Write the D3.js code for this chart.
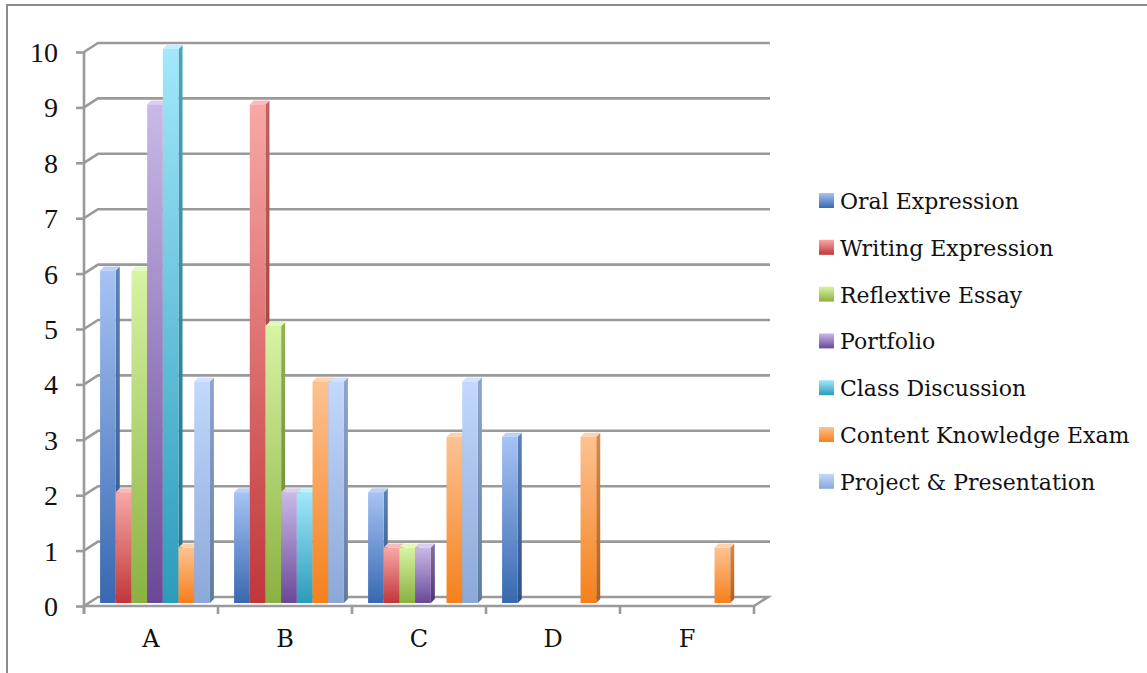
<!DOCTYPE html>
<html>
<head>
<meta charset="utf-8">
<script src="https://cdn.jsdelivr.net/npm/d3@7"></script>
<style>
  html, body { margin: 0; padding: 0; background: #fff; }
  svg { display: block; }
  text { font-family: "DejaVu Serif", serif; fill: #111; }
</style>
</head>
<body>
<svg id="chart" width="1147" height="673"></svg>
<script>
// ---- data ----
const categories = ["A", "B", "C", "D", "F"];
const seriesNames = ["Oral Expression", "Writing Expression", "Reflextive Essay", "Portfolio",
                     "Class Discussion", "Content Knowledge Exam", "Project & Presentation"];
const oralExpression      = [6, 2, 2, 3, 0];
const writingExpression   = [2, 9, 1, 0, 0];
const reflexiveEssay      = [6, 5, 1, 0, 0];
const portfolio           = [9, 2, 1, 0, 0];
const classDiscussion     = [10, 2, 0, 0, 0];
const contentKnowledge    = [1, 4, 3, 3, 1];
const projectPresentation = [4, 4, 4, 0, 0];
const yTicks = [0, 1, 2, 3, 4, 5, 6, 7, 8, 9, 10];

const seriesValues = [oralExpression, writingExpression, reflexiveEssay, portfolio,
                      classDiscussion, contentKnowledge, projectPresentation];

// colours: [light top, dark bottom, side top, side bottom, top face]
const palette = [
  ["#a6c3f4", "#3868b0", "#5d82b8", "#2c5288", "#bcd1f6"],
  ["#f8a8a6", "#c0373a", "#c06361", "#8e2a2a", "#fabcba"],
  ["#d8f3a4", "#8ab141", "#93b35a", "#62802c", "#e4f7bf"],
  ["#cab9e8", "#6a4898", "#8470a4", "#4d3572", "#dacdf0"],
  ["#a2e8fa", "#2a9cba", "#4aa5bd", "#1e7088", "#bff0fc"],
  ["#fdc292", "#f5801b", "#d88a48", "#b55d14", "#fed2ad"],
  ["#c3d8fc", "#8ba8d8", "#8fa7cf", "#62799f", "#d3e3fd"]
];

const svg = d3.select("#chart");
const defs = svg.append("defs");
palette.forEach((c, i) => {
  const g = defs.append("linearGradient").attr("id", "front" + i)
    .attr("x1", 0).attr("y1", 0).attr("x2", 0).attr("y2", 1);
  g.append("stop").attr("offset", "0%").attr("stop-color", c[0]);
  g.append("stop").attr("offset", "100%").attr("stop-color", c[1]);
  const s = defs.append("linearGradient").attr("id", "side" + i)
    .attr("x1", 0).attr("y1", 0).attr("x2", 0).attr("y2", 1);
  s.append("stop").attr("offset", "0%").attr("stop-color", c[2]);
  s.append("stop").attr("offset", "100%").attr("stop-color", c[3]);
});

// outer frame
svg.append("path").attr("d", "M7,673 L7,5 L1147,5")
  .attr("fill", "none").attr("stroke", "#8c8c8c").attr("stroke-width", 2);

// geometry
const x0 = 84, x1 = 754, yBase = 606, yTop = 52;
const depthX = 14, depthY = 9;
const x = d3.scaleBand().domain(categories).range([x0, x1]).paddingInner(0).paddingOuter(0);
const y = d3.scaleLinear().domain([0, 10]).range([yBase, yTop]);
const inner = d3.scaleBand().domain(d3.range(seriesNames.length))
  .range([0, x.bandwidth()]).paddingOuter(0.77).paddingInner(0);

const gridColor = "#9a9a9a";
const grid = svg.append("g");
// back wall gridlines with diagonal from front axis
yTicks.forEach(t => {
  const yy = y(t);
  if (t === 0) return;
  grid.append("path")
    .attr("d", `M${x0},${yy} L${x0 + depthX},${yy - depthY} L${x1 + depthX + 2},${yy - depthY}`)
    .attr("fill", "none").attr("stroke", gridColor).attr("stroke-width", 2.6);
});
// floor
grid.append("path")
  .attr("d", `M${x0},${yBase} L${x0 + depthX},${yBase - depthY} L${x1 + depthX},${yBase - depthY} L${x1},${yBase} Z`)
  .attr("fill", "none").attr("stroke", gridColor).attr("stroke-width", 2.6);

// y axis via d3
const yAxis = d3.axisLeft(y).tickValues(yTicks).tickSize(8).tickPadding(18).tickFormat(d3.format("d"));
const ya = svg.append("g").attr("transform", `translate(${x0},0)`).call(yAxis);
ya.select(".domain").attr("d", `M0,${yTop}V${yBase + 8}`).attr("stroke", gridColor).attr("stroke-width", 2.6);
ya.selectAll(".tick line").attr("stroke", gridColor).attr("stroke-width", 2.6);
ya.selectAll(".tick text").style("font-family", "Liberation Serif").style("font-size", "28px")
  .attr("fill", "#111").attr("dy", "0.34em");

// x axis via d3
const xAxis = d3.axisBottom(x).tickSize(0).tickPadding(24);
const xa = svg.append("g").attr("transform", `translate(0,${yBase})`).call(xAxis);
xa.select(".domain").remove();
xa.selectAll(".tick text").style("font-family", "DejaVu Serif").style("font-size", "24px").attr("fill", "#111");
// category boundary ticks
const bounds = categories.map(c => x(c)).concat([x1]);
xa.selectAll(".bound").data(bounds).enter().append("line")
  .attr("x1", d => d).attr("x2", d => d).attr("y1", 0).attr("y2", 8)
  .attr("stroke", gridColor).attr("stroke-width", 2.6);

// bars
const bdx = 4, bdy = 4, barShiftX = 4, barShiftY = -3;
const bars = svg.append("g");
categories.forEach((cat, ci) => {
  seriesValues.forEach((vals, si) => {
    const v = vals[ci];
    if (!v) return;
    const bx = x(cat) + inner(si) + barShiftX;
    const bw = inner.bandwidth();
    const top = y(v) + barShiftY;
    const bot = y(0) + barShiftY;
    const g = bars.append("g");
    // side face
    g.append("path")
      .attr("d", `M${bx + bw},${top} L${bx + bw + bdx},${top - bdy} L${bx + bw + bdx},${bot - bdy} L${bx + bw},${bot} Z`)
      .attr("fill", `url(#side${si})`);
    // top face
    g.append("path")
      .attr("d", `M${bx},${top} L${bx + bdx},${top - bdy} L${bx + bw + bdx},${top - bdy} L${bx + bw},${top} Z`)
      .attr("fill", palette[si][4]);
    // front
    g.append("rect").attr("x", bx).attr("y", top).attr("width", bw).attr("height", bot - top)
      .attr("fill", `url(#front${si})`);
  });
});

// legend
const legend = svg.append("g").attr("transform", "translate(819,193)");
const rowH = 46.8;
seriesNames.forEach((name, i) => {
  const r = legend.append("g").attr("transform", `translate(0,${i * rowH})`);
  r.append("rect").attr("width", 15).attr("height", 15).attr("fill", `url(#front${i})`);
  r.append("text").attr("x", 21).attr("y", 16).style("font-size", "22px").text(name);
});
</script>
</body>
</html>
